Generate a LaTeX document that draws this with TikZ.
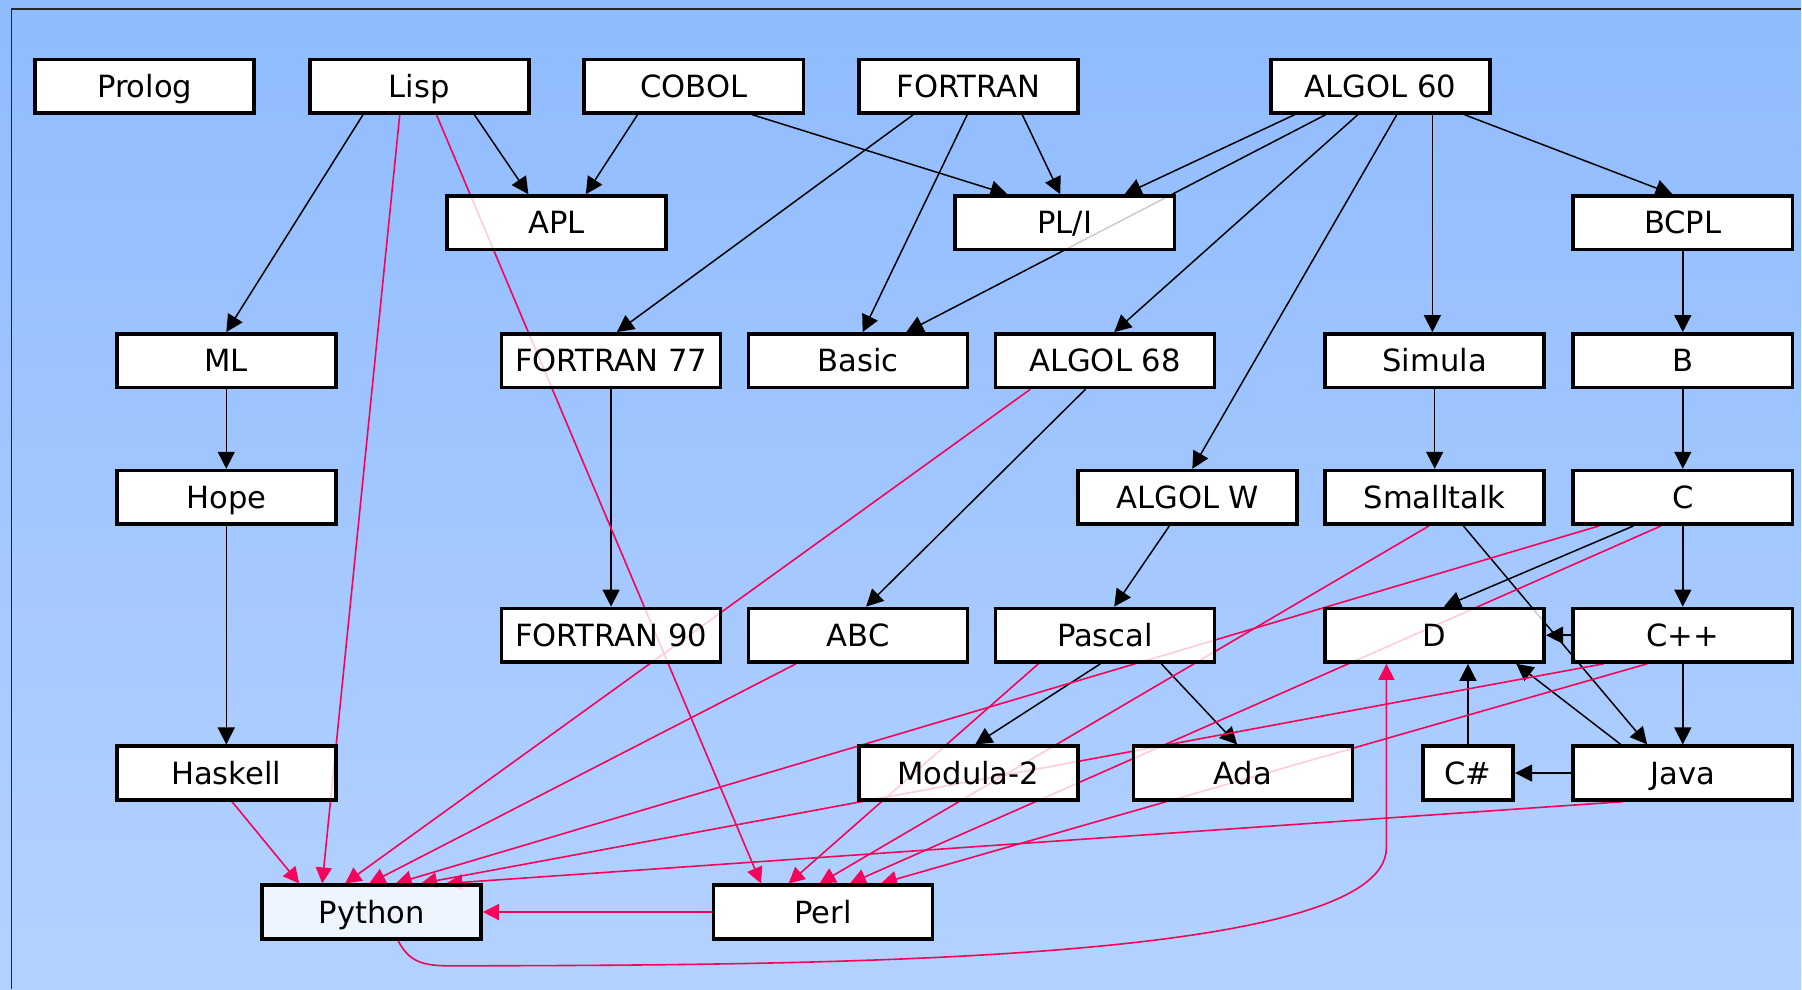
\documentclass[tikz,border=0pt]{standalone}
\usepackage{fontspec}
\setmainfont{DejaVu Sans}
\usetikzlibrary{arrows.meta,calc}
\definecolor{bgtop}{RGB}{143,187,255}
\definecolor{bgbot}{RGB}{180,210,255}
\definecolor{edgered}{RGB}{245,5,90}
\pgfdeclarelayer{bg}
\pgfdeclarelayer{base}
\pgfdeclarelayer{fg}
\pgfsetlayers{bg,base,main,fg}
\tikzset{
  lang/.style={draw=black, line width=1.8bp, fill=white, fill opacity=0.8, text opacity=1,
    minimum width=109.6bp, minimum height=26.8bp, inner sep=0pt,
    text height=11.1bp, text depth=0pt, font=\fontsize{15.3bp}{18bp}\selectfont},
  inh/.style={draw=black, line width=0.75bp, -{Triangle[length=8.5bp,width=8.5bp]}},
  infl/.style={draw=edgered, line width=0.8bp, -{Triangle[length=8bp,width=8bp]}},
}
\begin{document}
\begin{tikzpicture}[x=0.5746bp, y=-0.5746bp]
\begin{pgfonlayer}{bg}
  \shade[top color=bgtop, bottom color=bgbot] (0,0) rectangle (1568,861);
  \draw[black!85, line width=0.9bp] (10,861) -- (10,8) -- (1568,8);
\end{pgfonlayer}
\useasboundingbox (0,0) rectangle (1568,861);

\begin{pgfonlayer}{fg}
  \node[lang] (Prolog)    at (126,75)   {Prolog};
  \node[lang] (Lisp)      at (365,75)   {Lisp};
  \node[lang] (COBOL)     at (604,75)   {COBOL};
  \node[lang] (FORTRAN)   at (843,75)   {FORTRAN};
  \node[lang] (A60)       at (1202,75)  {ALGOL 60};
  \node[lang] (APL)       at (484.5,194) {APL};
  \node[lang] (PLI)       at (927,194)  {PL/I};
  \node[lang] (BCPL)      at (1465,194) {BCPL};
  \node[lang] (ML)        at (197,314)  {ML};
  \node[lang] (F77)       at (532,314)  {FORTRAN 77};
  \node[lang] (Basic)     at (747,314)  {Basic};
  \node[lang] (A68)       at (962,314)  {ALGOL 68};
  \node[lang] (Simula)    at (1249,314) {Simula};
  \node[lang] (B)         at (1465,314) {B};
  \node[lang] (Hope)      at (197,433)  {Hope};
  \node[lang] (AW)        at (1034,433) {ALGOL W};
  \node[lang] (Smalltalk) at (1249,433) {Smalltalk};
  \node[lang] (C)         at (1465,433) {C};
  \node[lang] (F90)       at (532,553)  {FORTRAN 90};
  \node[lang] (ABC)       at (747,553)  {ABC};
  \node[lang] (Pascal)    at (962,553)  {Pascal};
  \node[lang] (D)         at (1249,553) {D};
  \node[lang] (Cpp)       at (1465,553) {C++};
  \node[lang] (Haskell)   at (197,673)  {Haskell};
  \node[lang] (Mod2)      at (843,673)  {Modula-2};
  \node[lang] (Ada)       at (1082,673) {Ada};
  \node[lang, minimum width=45.3bp] (Cs) at (1278,673) {C\#};
  \node[lang] (Java)      at (1465,673) {Java};
  \node[lang] (Python)    at (323.5,794) {Python};
  \node[lang] (Perl)      at (716.5,794) {Perl};
\end{pgfonlayer}

\begin{pgfonlayer}{base}
  \foreach \n in {Prolog,Lisp,COBOL,FORTRAN,A60,APL,PLI,BCPL,ML,F77,Basic,A68,Simula,B,Hope,AW,Smalltalk,C,F90,ABC,Pascal,D,Cpp,Haskell,Mod2,Ada,Cs,Java,Perl}
    \fill[white] (\n.south west) rectangle (\n.north east);
\end{pgfonlayer}

% inheritance edges (black)
\draw[inh] ($(Lisp.south)+(-49,0)$) -- (ML.north);
\draw[inh] ($(Lisp.south)+(48,0)$) -- ($(APL.north)+(-24.5,0)$);
\draw[inh] ($(COBOL.south)+(-49,0)$) -- ($(APL.north)+(25.5,0)$);
\draw[inh] ($(COBOL.south)+(51,0)$) -- ($(PLI.north)+(-50,0)$);
\draw[inh] ($(FORTRAN.south)+(-48,0)$) -- ($(F77.north)+(5,0)$);
\draw[inh] ($(FORTRAN.south)+(-1,0)$) -- ($(Basic.north)+(4,0)$);
\draw[inh] ($(FORTRAN.south)+(47,0)$) -- ($(PLI.north)+(-4,0)$);
\draw[inh] ($(A60.south)+(-75,0)$) -- ($(PLI.north)+(52,0)$);
\draw[inh] ($(A60.south)+(-48,0)$) -- ($(Basic.north)+(42,0)$);
\draw[inh] ($(A60.south)+(-20,0)$) -- ($(A68.north)+(8,0)$);
\draw[inh] ($(A60.south)+(14,0)$) -- ($(AW.north)+(4,0)$);
\draw[inh] ($(A60.south)+(45,0)$) -- ($(Simula.north)+(-2,0)$);
\draw[inh] ($(A60.south)+(73,0)$) -- ($(BCPL.north)+(-9,0)$);
\draw[inh] (BCPL.south) -- (B.north);
\draw[inh] (B.south) -- (C.north);
\draw[inh] (ML.south) -- (Hope.north);
\draw[inh] (Hope.south) -- (Haskell.north);
\draw[inh] (F77.south) -- (F90.north);
\draw[inh] ($(A68.south)+(-17,0)$) -- ($(ABC.north)+(7,0)$);
\draw[inh] ($(AW.south)+(-16,0)$) -- ($(Pascal.north)+(8,0)$);
\draw[inh] (Simula.south) -- (Smalltalk.north);
\draw[inh] ($(C.south)+(-43,0)$) -- ($(D.north)+(8,0)$);
\draw[inh] (C.south) -- (Cpp.north);
\draw[inh] ($(Smalltalk.south)+(25,0)$) -- ($(Java.north)+(-31,0)$);
\draw[inh] (Cpp.west) -- (D.east);
\draw[inh] (Cpp.south) -- (Java.north);
\draw[inh] ($(Java.north)+(-54,0)$) -- ($(D.south)+(71,0)$);
\draw[inh] (Cs.north) -- ($(D.south)+(29,0)$);
\draw[inh] (Java.west) -- (Cs.east);
\draw[inh] ($(Pascal.south)+(-4,0)$) -- ($(Mod2.north)+(6,0)$);
\draw[inh] ($(Pascal.south)+(49,0)$) -- ($(Ada.north)+(-5,0)$);

% influence edges (red)
\draw[infl] ($(Haskell.south)+(5,0)$) -- ($(Python.north)+(-63,0)$);
\draw[infl] ($(Lisp.south)+(-17,0)$) -- ($(Python.north)+(-43,0)$);
\draw[infl] ($(A68.south)+(-65,0)$) -- ($(Python.north)+(-23,0)$);
\draw[infl] ($(ABC.south)+(-54,0)$) -- ($(Python.north)+(-2,0)$);
\draw[infl] ($(C.south)+(-73,0)$) -- ($(Python.north)+(21,0)$);
\draw[infl] ($(Cpp.south)+(-69,0)$) -- ($(Python.north)+(43,0)$);
\draw[infl] ($(Java.south)+(-52,0)$) -- ($(Python.north)+(65,0)$);
\draw[infl] (Perl.west) -- (Python.east);
\draw[infl] ($(Lisp.south)+(15,0)$) -- ($(Perl.north)+(-54,0)$);
\draw[infl] ($(Pascal.south)+(-58,0)$) -- ($(Perl.north)+(-30,0)$);
\draw[infl] ($(Smalltalk.south)+(-5,0)$) -- ($(Perl.north)+(-3,0)$);
\draw[infl] ($(C.south)+(-19,0)$) -- ($(Perl.north)+(23.5,0)$);
\draw[infl] ($(Cpp.south)+(-31,0)$) -- ($(Perl.north)+(50.5,0)$);
\draw[infl] ($(Python.south)+(23,0)$)
   .. controls ($(Python.south)+(33,19)$) and ($(Python.south)+(45,22)$) .. ($(Python.south)+(70,22)$)
   .. controls (700,840) and (1207,840) .. ($(D.south)+(-42,160)$)
   -- ($(D.south)+(-42,0)$);
\end{tikzpicture}
\end{document}
